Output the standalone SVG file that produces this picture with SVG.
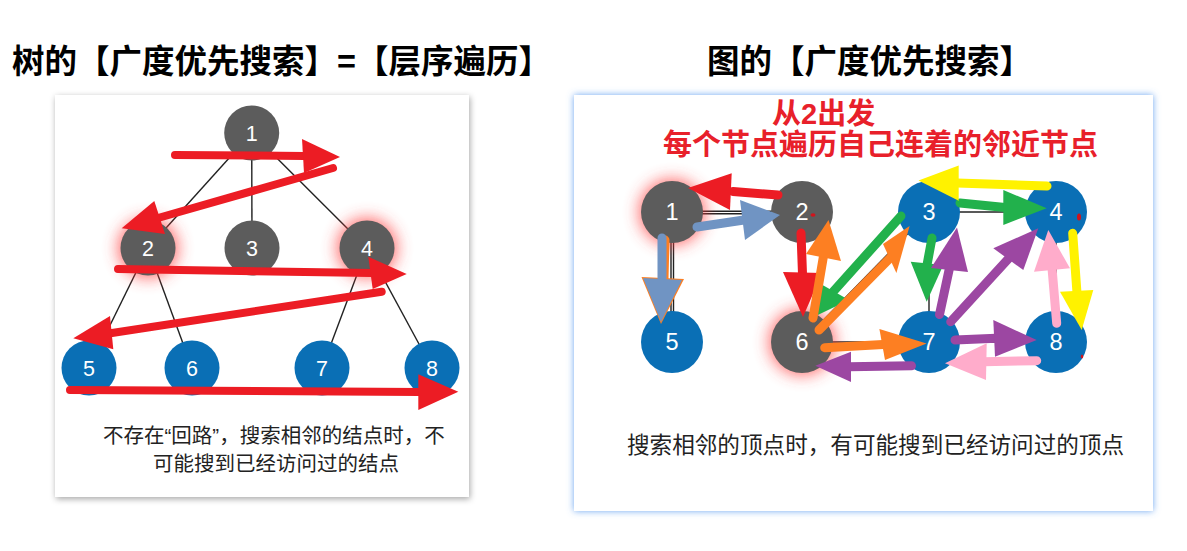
<svg xmlns="http://www.w3.org/2000/svg" width="1187" height="551" viewBox="0 0 1187 551">
<defs>
<filter id="shadowL" x="-10%" y="-10%" width="120%" height="120%"><feDropShadow dx="1" dy="2" stdDeviation="3" flood-color="#000" flood-opacity="0.35"/></filter>
<filter id="shadowR" x="-10%" y="-10%" width="120%" height="120%"><feDropShadow dx="0" dy="0" stdDeviation="3.5" flood-color="#5d9cf0" flood-opacity="0.9"/></filter>
<filter id="glow" x="-100%" y="-100%" width="300%" height="300%"><feGaussianBlur stdDeviation="8"/></filter>
<style>
.title{font-family:"Liberation Sans","Noto Sans CJK SC",sans-serif;font-weight:700;font-size:32.5px;fill:#000}
.note{font-family:"Liberation Sans","Noto Sans CJK SC",sans-serif;font-size:20.5px;fill:#222}
.note2{font-family:"Liberation Sans","Noto Sans CJK SC",sans-serif;font-size:22.6px;fill:#222}
.redt{font-family:"Liberation Sans","Noto Sans CJK SC",sans-serif;font-weight:700;font-size:29px;fill:#e8202a}
.lbl{font-family:"Liberation Sans",Arial,sans-serif;fill:#fff;text-anchor:middle}
.t{font-size:21.5px}
.g{font-size:23.5px}
.gray{fill:#5c5c5c}
.blue{fill:#0a6fb5}
.halo{fill:#ff3a3a;opacity:0.75;filter:url(#glow)}
.edge{stroke:#222;stroke-width:1.4;fill:none}
.shaft{fill:none;stroke-linecap:round}
.red .shaft{stroke:#ec1c24}.red polygon{fill:#ec1c24}
.bg .shaft{stroke:#7094c3}.bg polygon{fill:#7094c3}
.or .shaft{stroke:#fd7f22}.or polygon{fill:#fd7f22}
.gr .shaft{stroke:#22b14c}.gr polygon{fill:#22b14c}
.ye .shaft{stroke:#fff200}.ye polygon{fill:#fff200}
.pu .shaft{stroke:#9c47a2}.pu polygon{fill:#9c47a2}
.pk .shaft{stroke:#ffaccb}.pk polygon{fill:#ffaccb}
.L .shaft{stroke-width:8}
.R .shaft{stroke-width:9}
</style>
</defs>
<rect width="1187" height="551" fill="#fff"/>

<text class="title" x="12" y="73">树的【广度优先搜索】=【层序遍历】</text>
<text class="title" x="707" y="73">图的【广度优先搜索】</text>

<rect x="55" y="95" width="414" height="402" fill="#fff" filter="url(#shadowL)"/>
<rect x="574" y="95" width="579" height="416" fill="#fff" filter="url(#shadowR)"/>

<g id="tree-edges" class="edge">
<line x1="251.7" y1="133" x2="148" y2="248"/>
<line x1="251.7" y1="133" x2="252" y2="248"/>
<line x1="251.7" y1="133" x2="367" y2="248"/>
<line x1="148" y1="248" x2="89" y2="368"/>
<line x1="148" y1="248" x2="192" y2="368"/>
<line x1="367" y1="248" x2="322" y2="368"/>
<line x1="367" y1="248" x2="432" y2="368"/>
</g>
<circle class="halo" cx="148" cy="248" r="30"/>
<circle class="halo" cx="367" cy="248" r="30"/>
<g id="t1"><circle class="gray" cx="251.7" cy="133" r="27.5"/><text class="lbl t" x="251.7" y="140.5">1</text></g>
<g id="t2"><circle class="gray" cx="148" cy="248" r="27.5"/><text class="lbl t" x="148" y="255.5">2</text></g>
<g id="t3"><circle class="gray" cx="252" cy="248" r="27.5"/><text class="lbl t" x="252" y="255.5">3</text></g>
<g id="t4"><circle class="gray" cx="367" cy="248" r="27.5"/><text class="lbl t" x="367" y="255.5">4</text></g>
<g id="t5"><circle class="blue" cx="89" cy="368" r="27.5"/><text class="lbl t" x="89" y="375.5">5</text></g>
<g id="t6"><circle class="blue" cx="192" cy="368" r="27.5"/><text class="lbl t" x="192" y="375.5">6</text></g>
<g id="t7"><circle class="blue" cx="322" cy="368" r="27.5"/><text class="lbl t" x="322" y="375.5">7</text></g>
<g id="t8"><circle class="blue" cx="432" cy="368" r="27.5"/><text class="lbl t" x="432" y="375.5">8</text></g>

<g id="tree-arrows" class="L">
<g class="red"><line class="shaft" x1="175" y1="155" x2="305" y2="156"/><polygon points="340,157 302,139 304,173"/></g>
<g class="red"><line class="shaft" x1="333" y1="168" x2="158" y2="218"/><polygon points="121.7,228.3 154.3,201 165,234"/></g>
<g class="red"><line class="shaft" x1="118" y1="269" x2="372" y2="273"/><polygon points="406.7,274 368.3,256.7 372.7,289"/></g>
<g class="red"><line class="shaft" x1="381.7" y1="291.7" x2="112" y2="333"/><polygon points="73.3,338.3 110,316 113.3,349.3"/></g>
<g class="red"><line class="shaft" x1="70" y1="390" x2="420" y2="392"/><polygon points="458.3,391.7 418.3,374.3 418.3,410"/></g>
</g>

<text class="note" x="103" y="443">不存在“回路”，搜索相邻的结点时，不</text>
<text class="note" x="153" y="471">可能搜到已经访问过的结点</text>

<text class="redt" x="772" y="124">从2出发</text>
<text class="redt" x="663" y="155">每个节点遍历自己连着的邻近节点</text>

<g id="graph-edges" class="edge">
<line x1="672" y1="211.3" x2="802" y2="211.3"/>
<line x1="672" y1="213.7" x2="802" y2="213.7"/>
<line x1="671" y1="212" x2="671" y2="342"/>
<line x1="673.5" y1="212" x2="673.5" y2="342"/>
<line x1="802" y1="212" x2="802" y2="342"/>
<line x1="929" y1="212" x2="802" y2="342"/>
<line x1="929" y1="212" x2="1056" y2="212"/>
<line x1="929" y1="212" x2="929" y2="342"/>
<line x1="1056" y1="212" x2="929" y2="342"/>
<line x1="1056" y1="212" x2="1056" y2="342"/>
<line x1="802" y1="342" x2="929" y2="342"/>
<line x1="929" y1="342" x2="1056" y2="342"/>
</g>
<circle class="halo" cx="672" cy="212" r="33"/>
<circle class="halo" cx="802" cy="342" r="33"/>
<g id="n1"><circle class="gray" cx="672" cy="212" r="31"/><text class="lbl g" x="672" y="220">1</text></g>
<g id="n2"><circle class="gray" cx="802" cy="212" r="31"/><text class="lbl g" x="802" y="220">2</text><ellipse cx="813" cy="215" rx="2.5" ry="1.8" fill="#d0141c"/></g>
<g id="n3"><circle class="blue" cx="929" cy="212" r="31"/><text class="lbl g" x="929" y="220">3</text></g>
<g id="n4"><circle class="blue" cx="1056" cy="212" r="31"/><text class="lbl g" x="1056" y="220">4</text><ellipse cx="1079" cy="217" rx="2" ry="3.5" fill="#d0141c"/></g>
<g id="n5"><circle class="blue" cx="672" cy="342" r="31"/><text class="lbl g" x="672" y="350">5</text></g>
<g id="n6"><circle class="gray" cx="802" cy="342" r="31"/><text class="lbl g" x="802" y="350">6</text></g>
<g id="n7"><circle class="blue" cx="929" cy="342" r="31"/><text class="lbl g" x="929" y="350">7</text></g>
<g id="n8"><circle class="blue" cx="1056" cy="342" r="31"/><text class="lbl g" x="1056" y="350">8</text><ellipse cx="1082" cy="356.5" rx="1.2" ry="2" fill="#d0141c"/></g>

<g id="graph-arrows" class="R">
<g class="or"><line class="shaft" x1="665" y1="240" x2="664" y2="279"/><polygon points="661,324 641.5,277 684,279"/></g>
<g class="bg"><line class="shaft" x1="662" y1="238" x2="662" y2="279"/><polygon points="661,322 643,278 682,280"/></g>
<g class="bg"><line class="shaft" x1="697" y1="227" x2="744" y2="220"/><polygon points="780,215 740,200 745,240"/></g>
<g class="red"><line class="shaft" x1="778" y1="195" x2="733" y2="191.5"/><polygon points="688,188 731.7,173.3 730,210"/></g>
<g class="red"><line class="shaft" x1="801" y1="233" x2="802.5" y2="274"/><polygon points="803,317 783,272 822,273"/></g>
<g class="gr"><line class="shaft" x1="901" y1="216" x2="832" y2="293"/><polygon points="811.5,318 819,283 849,300"/></g>
<g class="or"><line class="shaft" x1="813" y1="318" x2="823.5" y2="256"/><polygon points="828.5,220 806,254 841,261"/></g>
<g class="or"><line class="shaft" x1="819" y1="330" x2="891" y2="257"/><polygon points="909.6,226 883,244 896.4,273"/></g>
<g class="or"><line class="shaft" x1="824.7" y1="347.7" x2="883" y2="344.5"/><polygon points="926.6,343.4 879.4,329 885,360"/></g>
<g class="gr"><line class="shaft" x1="932" y1="238" x2="927" y2="265"/><polygon points="926.7,301.7 910.7,261.7 943.3,265"/></g>
<g class="gr"><line class="shaft" x1="960" y1="203" x2="1005" y2="207.5"/><polygon points="1046.7,208.3 1003.3,190 1003.3,225"/></g>
<g class="ye"><line class="shaft" x1="1047" y1="186" x2="957" y2="183"/><polygon points="918.5,180.5 958.7,165.5 958.7,200.7"/></g>
<g class="ye"><line class="shaft" x1="1072.7" y1="233.3" x2="1077" y2="293"/><polygon points="1081.7,330 1060,291.7 1093.3,290"/></g>
<g class="pu"><line class="shaft" x1="939.5" y1="314.5" x2="949.5" y2="268"/><polygon points="957,227.5 931,268 968,272"/></g>
<g class="pu"><line class="shaft" x1="950.7" y1="321.7" x2="1010" y2="257"/><polygon points="1038.3,228.3 993.3,248.3 1023.3,270"/></g>
<g class="pu"><line class="shaft" x1="955" y1="340" x2="996" y2="338.3"/><polygon points="1036.7,340 993.3,320 995,356.7"/></g>
<g class="pu"><line class="shaft" x1="911.5" y1="365.8" x2="849" y2="366.8"/><polygon points="815.3,365.8 851,351.7 851,382"/></g>
<g class="pk"><line class="shaft" x1="1056.7" y1="323.3" x2="1052" y2="268"/><polygon points="1048.3,230 1034,271.7 1070,268.3"/></g>
<g class="pk"><line class="shaft" x1="1036.7" y1="360.7" x2="984" y2="361.7"/><polygon points="945,363.3 986.7,343.3 986,380"/></g>
</g>

<text class="note2" x="627" y="453">搜索相邻的顶点时，有可能搜到已经访问过的顶点</text>
</svg>
